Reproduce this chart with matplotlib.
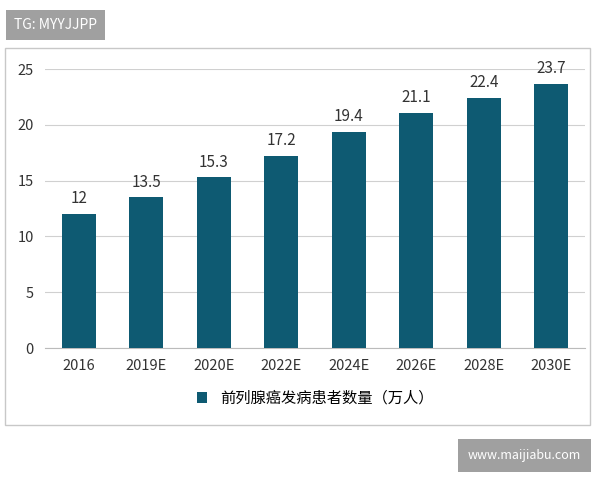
import matplotlib
matplotlib.use("Agg")
import matplotlib.pyplot as plt
from matplotlib.patches import Rectangle

plt.rcParams['font.family'] = ['Noto Sans CJK SC', 'DejaVu Sans']

categories = ["2016", "2019E", "2020E", "2022E", "2024E", "2026E", "2028E", "2030E"]
values = [12, 13.5, 15.3, 17.2, 19.4, 21.1, 22.4, 23.7]
series_name = "前列腺癌发病患者数量（万人）"
color = "#0e5a72"

fig = plt.figure(figsize=(6, 4.8), dpi=100)
fig.patches.append(Rectangle((5/600, 1-425/480), 585/600, 377/480, transform=fig.transFigure,
                             fill=False, edgecolor="#c8c8c8", lw=1))
ax = fig.add_axes([0.075, 0.275, 0.9, 0.581])
x = range(len(categories))
bars = ax.bar(x, values, width=0.5, color=color, label=series_name, zorder=3)
for xi, v in zip(x, values):
    ax.text(xi, v + 0.6, f"{v:g}", ha="center", va="bottom", fontsize=11, color="#333333")
ax.set_ylim(0, 25)
ax.set_xlim(-0.5, len(categories) - 0.5)
ax.set_yticks(range(0, 26, 5))
ax.set_xticks(list(x))
ax.set_xticklabels(categories)
ax.tick_params(axis="both", length=0, labelsize=10.5, colors="#333333", pad=8)
ax.grid(axis="y", color="#d0d0d0", lw=0.8, zorder=0)
for s in ["top", "right", "left"]:
    ax.spines[s].set_visible(False)
ax.spines["bottom"].set_color("#bbbbbb")
ax.legend(loc="upper center", bbox_to_anchor=(0.5, -0.1), frameon=False, fontsize=11,
          handlelength=0.7, handleheight=0.7)

fig.text(14/600, 1-25/480, "TG: MYYJJPP", color="white", fontsize=10, va="center",
         bbox=dict(boxstyle="square,pad=0.6", fc="#a0a0a0", ec="none"))
fig.text(468/600, 1-455/480, "www.maijiabu.com", color="white", fontsize=9, va="center",
         bbox=dict(boxstyle="square,pad=0.8", fc="#a0a0a0", ec="none"))
fig.savefig("out.png", dpi=100)
